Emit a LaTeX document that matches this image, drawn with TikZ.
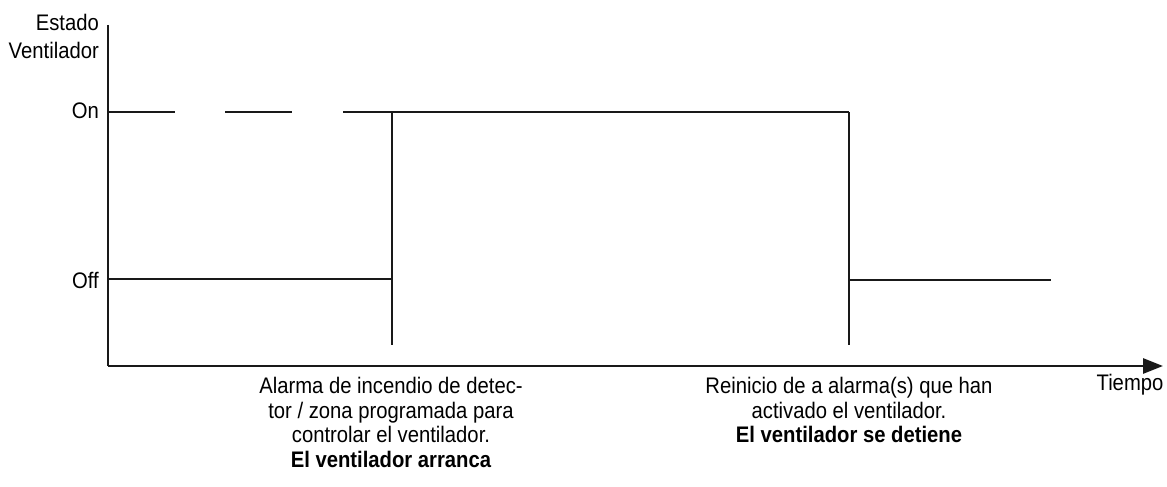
\documentclass[tikz,border=0pt]{standalone}
\usepackage{fontspec}
\setmainfont{Liberation Sans}[FakeStretch=0.9]
\usetikzlibrary{arrows.meta}
\begin{document}
\begin{tikzpicture}[x=1pt,y=-1pt,
  lbl/.style={inner sep=0pt,font=\fontsize{22.5}{24.5}\selectfont},
  thin/.style={line width=1.4pt,black!90},
  axis/.style={line width=2.8pt,black!90}]
\useasboundingbox (0,0) rectangle (1167,487);
% coordinates
\coordinate (ytop) at (108,25);
\coordinate (org) at (108,366);
\coordinate (xend) at (1163,366);
\coordinate (on0) at (108,112);
\coordinate (d1e) at (175,112);
\coordinate (d2s) at (225,112);
\coordinate (d2e) at (292,112);
\coordinate (d3s) at (343,112);
\coordinate (t1on) at (392,112);
\coordinate (t1bot) at (392,345);
\coordinate (off0) at (108,279);
\coordinate (t1off) at (392,279);
\coordinate (t2on) at (849,112);
\coordinate (t2bot) at (849,345);
\coordinate (t2off) at (849,280);
\coordinate (offend) at (1051,280);
% axes
\draw[thin] (ytop) -- (org);
\draw[axis,-{Triangle[length=20pt,width=15pt]}] (org) -- (xend);
% signal
\draw[thin] (on0) -- (d1e);
\draw[thin] (d2s) -- (d2e);
\draw[thin] (d3s) -- (t1on) -- (t2on);
\draw[thin] (off0) -- (t1off);
\draw[thin] (t1on) -- (t1bot);
\draw[thin] (t2on) -- (t2bot);
\draw[thin] (t2off) -- (offend);
% labels
\node[lbl,anchor=east] (estado) at (99,22) {Estado};
\node[lbl,anchor=east] (vent) at (99,50) {Ventilador};
\node[lbl,anchor=east] (on) at (99,111) {On};
\node[lbl,anchor=east] (off) at (99,280) {Off};
\node[lbl] (tiempo) at (1130,385) {Tiempo};
\node[lbl,anchor=north,align=center] (ev1) at (391,377) {Alarma de incendio de detec-\\tor / zona programada para\\controlar el ventilador.\\\textbf{El ventilador arranca}};
\node[lbl,anchor=north,align=center] (ev2) at (849,377) {Reinicio de a alarma(s) que han\\activado el ventilador.\\\textbf{El ventilador se detiene}};
\end{tikzpicture}
\end{document}
